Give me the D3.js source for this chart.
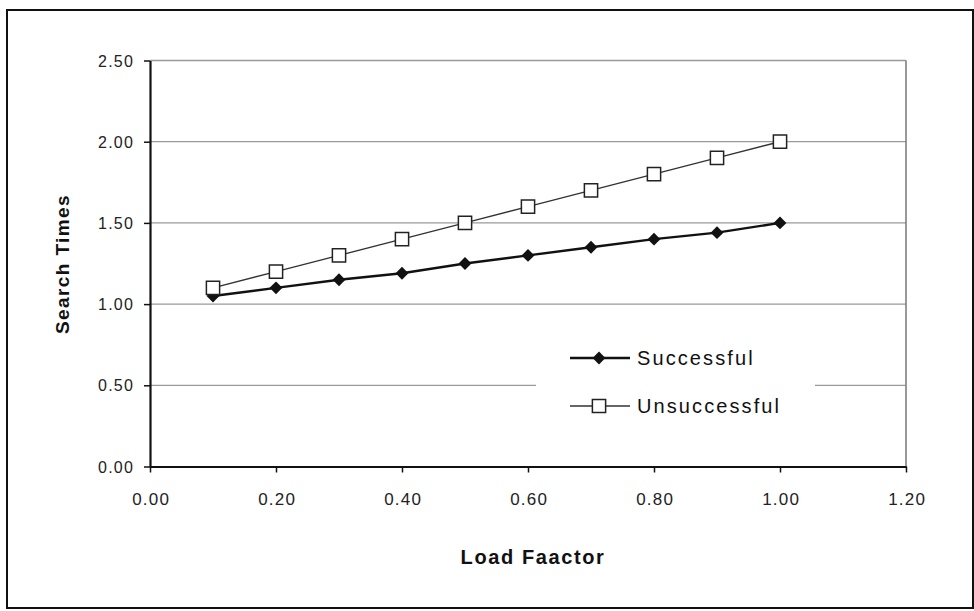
<!DOCTYPE html>
<html><head><meta charset="utf-8">
<script src="https://cdn.jsdelivr.net/npm/d3@7"></script>
<style>body{margin:0;background:#fff}svg{display:block}</style>
</head><body>
<svg id="c" width="974" height="611"></svg>
<script>
const loadFactor = [0.1,0.2,0.3,0.4,0.5,0.6,0.7,0.8,0.9,1.0];
const successful = [1.05,1.10,1.15,1.19,1.25,1.30,1.35,1.40,1.44,1.50];
const unsuccessful = [1.10,1.20,1.30,1.40,1.50,1.60,1.70,1.80,1.90,2.00];
const xTicks = [0,0.2,0.4,0.6,0.8,1.0,1.2];
const yTicks = [0,0.5,1.0,1.5,2.0,2.5];
const seriesNames = ["Successful","Unsuccessful"];

const svg = d3.select("#c");
const font = "'Liberation Sans', Arial, Helvetica, sans-serif";
const L=150, R=906, T=60.5, B=466.5;
const x = d3.scaleLinear().domain([0,1.2]).range([L,R]);
const y = d3.scaleLinear().domain([0,2.5]).range([B,T]);

// outer frame
svg.append("rect").attr("x",7).attr("y",10).attr("width",966).attr("height",598)
  .attr("fill","none").attr("stroke","#111").attr("stroke-width",2);

// gridlines
svg.append("g").selectAll("line").data(yTicks.filter(d=>d>0)).join("line")
  .attr("x1",L).attr("x2",R).attr("y1",d=>y(d)).attr("y2",d=>y(d))
  .attr("stroke","#9a9a9a").attr("stroke-width",1.3);
// right border
svg.append("line").attr("x1",R).attr("x2",R).attr("y1",T).attr("y2",B)
  .attr("stroke","#777").attr("stroke-width",1.5);

// axes
const yAxis = d3.axisLeft(y).tickValues(yTicks).tickFormat(d3.format(".2f")).tickSizeInner(6).tickSizeOuter(0);
const gy = svg.append("g").attr("transform",`translate(${L},0)`).call(yAxis);
gy.select(".domain").attr("stroke","#111").attr("stroke-width",2.2);
gy.selectAll(".tick line").attr("stroke","#111").attr("stroke-width",1.5);
gy.selectAll("text").attr("font-family",font).attr("font-size",16).attr("letter-spacing","1.2px")
  .attr("fill","#222").attr("x",-16).attr("dy","0.35em");

const xAxis = d3.axisBottom(x).tickValues(xTicks).tickFormat(d3.format(".2f")).tickSizeInner(6).tickSizeOuter(0);
const gx = svg.append("g").attr("transform",`translate(0,${B})`).call(xAxis);
gx.select(".domain").attr("stroke","#111").attr("stroke-width",2);
gx.selectAll(".tick line").attr("stroke","#111").attr("stroke-width",1.5);
gx.selectAll("text").attr("font-family",font).attr("font-size",17).attr("letter-spacing","1.2px")
  .attr("fill","#222").attr("y",38).attr("dy",0).attr("dx","0.6px");

// axis titles
svg.append("text").attr("x",533).attr("y",564).attr("text-anchor","middle")
  .attr("font-family",font).attr("font-weight","bold").attr("font-size",20).attr("letter-spacing","1.6px")
  .attr("fill","#111").text("Load Faactor");
svg.append("text").attr("transform","translate(69,264) rotate(-90)").attr("text-anchor","middle")
  .attr("font-family",font).attr("font-weight","bold").attr("font-size",19).attr("letter-spacing","1.4px")
  .attr("fill","#111").text("Search Times");

const line = d3.line().x(d=>x(d[0])).y(d=>y(d[1]));
const sData = loadFactor.map((v,i)=>[v,successful[i]]);
const uData = loadFactor.map((v,i)=>[v,unsuccessful[i]]);

svg.append("path").datum(uData).attr("d",line).attr("fill","none").attr("stroke","#333").attr("stroke-width",1.4);
svg.append("path").datum(sData).attr("d",line).attr("fill","none").attr("stroke","#111").attr("stroke-width",2.4);

const diamond = d3.symbol().type(d3.symbolDiamond2).size(105);
const square = d3.symbol().type(d3.symbolSquare).size(175);
svg.append("g").selectAll("path").data(sData).join("path")
  .attr("transform",d=>`translate(${x(d[0])},${y(d[1])})`).attr("d",diamond).attr("fill","#111");
svg.append("g").selectAll("path").data(uData).join("path")
  .attr("transform",d=>`translate(${x(d[0])},${y(d[1])})`).attr("d",square)
  .attr("fill","#fff").attr("stroke","#222").attr("stroke-width",1.5);

// legend
const lg = svg.append("g");
lg.append("rect").attr("x",536).attr("y",330).attr("width",279).attr("height",100).attr("fill","#fff");
const rows = [{n:seriesNames[0],y:358,sym:"d"},{n:seriesNames[1],y:406,sym:"s"}];
rows.forEach(r=>{
  lg.append("line").attr("x1",570).attr("x2",630).attr("y1",r.y).attr("y2",r.y)
    .attr("stroke",r.sym==="d"?"#111":"#333").attr("stroke-width",r.sym==="d"?2.4:1.4);
  if(r.sym==="d") lg.append("path").attr("transform",`translate(599,${r.y})`).attr("d",diamond).attr("fill","#111");
  else lg.append("path").attr("transform",`translate(599,${r.y})`).attr("d",square).attr("fill","#fff").attr("stroke","#222").attr("stroke-width",1.5);
  lg.append("text").attr("x",637).attr("y",r.y+7).attr("font-family",font).attr("font-size",20)
    .attr("letter-spacing","2.1px").attr("fill","#111").text(r.n);
});
</script>
</body></html>
